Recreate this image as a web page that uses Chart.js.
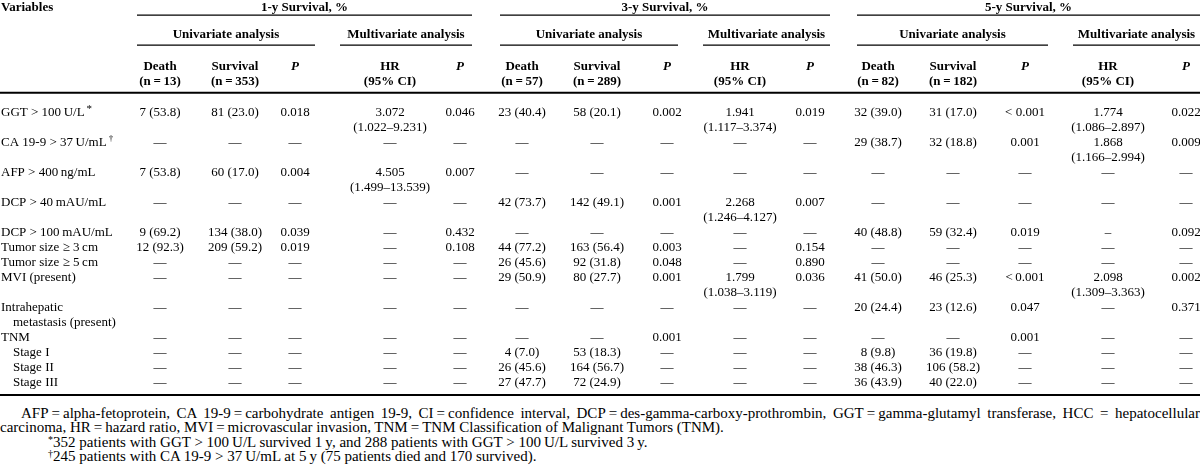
<!DOCTYPE html>
<html>
<head>
<meta charset="utf-8">
<script src="https://cdn.jsdelivr.net/npm/chart.js@4.4.1/dist/chart.umd.min.js"></script>
<style>
  html, body { margin: 0; padding: 0; background: #fff; }
  #wrap { position: relative; width: 1200px; height: 400px; }
  #notes { position: absolute; left: 0; top: 406px; width: 1200px; font: 15px "Liberation Serif", serif; line-height: 14.4px; color: #000; }
  #notes div { white-space: nowrap; }
  #notes .j { text-align: justify; text-align-last: justify; text-indent: 21px; }
  #notes .f { padding-left: 48px; }
  #notes sup { font-size: 10px; line-height: 0; vertical-align: 4px; }
</style>
</head>
<body>
<div id="wrap"><canvas id="tbl"></canvas></div>
<div id="notes">
  <div class="j">AFP&#8201;=&#8201;alpha-fetoprotein, CA 19-9&#8201;=&#8201;carbohydrate antigen 19-9, CI&#8201;=&#8201;confidence interval, DCP&#8201;=&#8201;des-gamma-carboxy-prothrombin, GGT&#8201;=&#8201;gamma-glutamyl transferase, HCC = hepatocellular</div>
  <div>carcinoma, HR&#8201;=&#8201;hazard ratio, MVI&#8201;=&#8201;microvascular invasion, TNM&#8201;=&#8201;TNM Classification of Malignant Tumors (TNM).</div>
  <div class="f"><sup>*</sup>352 patients with GGT &gt; 100&#8201;U/L survived 1&#8201;y, and 288 patients with GGT &gt; 100&#8201;U/L survived 3&#8201;y.</div>
  <div class="f"><sup>&#8224;</sup>245 patients with CA 19-9 &gt; 37&#8201;U/mL at 5&#8201;y (75 patients died and 170 survived).</div>
</div>
<script>
// table content
const variables = ['GGT > 100\u2009U/L', 'CA 19-9 > 37\u2009U/mL', 'AFP > 400\u2009ng/mL', 'DCP > 40\u2009mAU/mL',
  'DCP > 100\u2009mAU/mL', 'Tumor size \u2265 3\u2009cm', 'Tumor size \u2265 5\u2009cm', 'MVI (present)',
  'Intrahepatic\nmetastasis (present)', 'TNM', 'Stage I', 'Stage II', 'Stage III'];
const varNotes = ['*', '\u2020', '', '', '', '', '', '', '', '', '', '', ''];
const subRows = ['Stage I', 'Stage II', 'Stage III'];

const groups = ['1-y Survival, %', '3-y Survival, %', '5-y Survival, %'];
const analyses = ['Univariate analysis', 'Multivariate analysis'];
const colNames = ['Death', 'Survival', 'P', 'HR', 'P'];
const colCounts = [
  ['(n\u2009=\u200913)', '(n\u2009=\u2009353)', '', '(95% CI)', ''],
  ['(n\u2009=\u200957)', '(n\u2009=\u2009289)', '', '(95% CI)', ''],
  ['(n\u2009=\u200982)', '(n\u2009=\u2009182)', '', '(95% CI)', '']
];

const D = '\u2014';
// 1-year
const death1y  = ['7 (53.8)', D, '7 (53.8)', D, '9 (69.2)', '12 (92.3)', D, D, D, D, D, D, D];
const surv1y   = ['81 (23.0)', D, '60 (17.0)', D, '134 (38.0)', '209 (59.2)', D, D, D, D, D, D, D];
const pUni1y   = ['0.018', D, '0.004', D, '0.039', '0.019', D, D, D, D, D, D, D];
const hr1y     = ['3.072', D, '4.505', D, D, D, D, D, D, D, D, D, D];
const ci1y     = ['1.022\u20139.231', '', '1.499\u201313.539', '', '', '', '', '', '', '', '', '', ''];
const pMulti1y = ['0.046', D, '0.007', D, '0.432', '0.108', D, D, D, D, D, D, D];
// 3-year
const death3y  = ['23 (40.4)', D, D, '42 (73.7)', D, '44 (77.2)', '26 (45.6)', '29 (50.9)', D, D, '4 (7.0)', '26 (45.6)', '27 (47.7)'];
const surv3y   = ['58 (20.1)', D, D, '142 (49.1)', D, '163 (56.4)', '92 (31.8)', '80 (27.7)', D, D, '53 (18.3)', '164 (56.7)', '72 (24.9)'];
const pUni3y   = ['0.002', D, D, '0.001', D, '0.003', '0.048', '0.001', D, '0.001', D, D, D];
const hr3y     = ['1.941', D, D, '2.268', D, D, D, '1.799', D, D, D, D, D];
const ci3y     = ['1.117\u20133.374', '', '', '1.246\u20134.127', '', '', '', '1.038\u20133.119', '', '', '', '', ''];
const pMulti3y = ['0.019', D, D, '0.007', D, '0.154', '0.890', '0.036', D, D, D, D, D];
// 5-year
const death5y  = ['32 (39.0)', '29 (38.7)', D, D, '40 (48.8)', D, D, '41 (50.0)', '20 (24.4)', D, '8 (9.8)', '38 (46.3)', '36 (43.9)'];
const surv5y   = ['31 (17.0)', '32 (18.8)', D, D, '59 (32.4)', D, D, '46 (25.3)', '23 (12.6)', D, '36 (19.8)', '106 (58.2)', '40 (22.0)'];
const pUni5y   = ['< 0.001', '0.001', D, D, '0.019', D, D, '<\u20090.001', '0.047', '0.001', D, D, D];
const hr5y     = ['1.774', '1.868', D, D, '\u2013', D, D, '2.098', D, D, D, D, D];
const ci5y     = ['1.086\u20132.897', '1.166\u20132.994', '', '', '', '', '', '1.309\u20133.363', '', '', '', '', ''];
const pMulti5y = ['0.022', '0.009', D, D, '0.092', D, D, '0.002', '0.371', D, D, D, D];

const groupData = [
  [death1y, surv1y, pUni1y, hr1y, pMulti1y, ci1y],
  [death3y, surv3y, pUni3y, hr3y, pMulti3y, ci3y],
  [death5y, surv5y, pUni5y, hr5y, pMulti5y, ci5y]
];

// layout (x in px of the 1200 wide table, y in text lines)
const colX = [[160, 235, 295, 390, 460], [522, 597, 667, 740, 810], [878, 953, 1025, 1108, 1186]];
const groupSpan = [[137, 472], [500, 830], [857, 1200]];
const uniSpan = [[137, 315], [500, 678], [857, 1048]];
const multiSpan = [[340, 472], [703, 830], [1073, 1200]];
const LINE = 15, TOP = -7.533;

const FONT = '13px "Liberation Serif"';
const BOLD = 'bold 13px "Liberation Serif"';
const BOLDIT = 'italic bold 13px "Liberation Serif"';

// each body row takes one or two text lines
let slot = 0;
const rowSlots = variables.map((v, i) => {
  const s = slot;
  const two = v.includes('\n') || groupData.some(g => g[5][i]);
  slot += two ? 2 : 1;
  return s;
});

const labelCells = [];
variables.forEach((v, i) => {
  v.split('\n').forEach((part, k) => {
    const indent = (k > 0 || subRows.includes(v)) ? 12 : 0;
    labelCells.push({ x: 1 + indent, y: rowSlots[i] + k, t: part, sup: k === 0 ? varNotes[i] : '' });
  });
});

const bodyCells = [];
groupData.forEach((g, gi) => {
  rowSlots.forEach((s, i) => {
    for (let c = 0; c < 5; c++) bodyCells.push({ x: colX[gi][c], y: s, t: g[c][i] });
    if (g[5][i]) bodyCells.push({ x: colX[gi][3], y: s + 1, t: '(' + g[5][i] + ')' });
  });
});

const headCells = [{ x: 1, y: -7, t: 'Variables', a: 'left' }];
groups.forEach((name, gi) => {
  headCells.push({ x: (groupSpan[gi][0] + groupSpan[gi][1]) / 2, y: -7, t: name });
  headCells.push({ x: (uniSpan[gi][0] + uniSpan[gi][1]) / 2, y: -5.2, t: analyses[0] });
  headCells.push({ x: (multiSpan[gi][0] + multiSpan[gi][1]) / 2, y: -5.2, t: analyses[1] });
  colNames.forEach((n, c) => {
    headCells.push({ x: colX[gi][c], y: -3.1, t: n, f: n === 'P' ? BOLDIT : BOLD });
    if (colCounts[gi][c]) headCells.push({ x: colX[gi][c], y: -2.1, t: colCounts[gi][c] });
  });
});

function rule(x0, x1, y, w) {
  return { type: 'scatter', showLine: true, data: [{ x: x0, y: y }, { x: x1, y: y }],
    borderColor: '#000', borderWidth: w, pointRadius: 0, pointHoverRadius: 0 };
}
const rules = [];
groups.forEach((n, gi) => {
  rules.push(rule(groupSpan[gi][0], groupSpan[gi][1], -6.53, 1.2));
  rules.push(rule(uniSpan[gi][0], uniSpan[gi][1], -4.53, 1.2));
  rules.push(rule(multiSpan[gi][0], multiSpan[gi][1], -4.53, 1.2));
});
rules.push(rule(0, 1200, -1.35, 2));
rules.push(rule(0, 1200, 18.8, 2.2));

function textSet(data, font, align) {
  return { type: 'scatter', data: data, texts: true, font: font, align: align, pointRadius: 0, pointHoverRadius: 0 };
}

const tableText = {
  id: 'tableText',
  afterDatasetsDraw(chart) {
    const ctx = chart.ctx;
    chart.data.datasets.forEach((ds, i) => {
      if (!ds.texts) return;
      chart.getDatasetMeta(i).data.forEach((pt, j) => {
        const d = ds.data[j];
        ctx.save();
        ctx.fillStyle = '#000';
        ctx.font = d.f || ds.font;
        ctx.textAlign = d.a || ds.align;
        ctx.textBaseline = 'middle';
        ctx.fillText(d.t, pt.x, pt.y);
        if (d.sup) {
          const w = ctx.measureText(d.t).width;
          ctx.textAlign = 'left';
          ctx.font = d.sup === '*' ? '11px "Liberation Serif"' : '9px "Liberation Serif"';
          ctx.fillText(d.sup, pt.x + w + 2, pt.y - 4);
        }
        ctx.restore();
      });
    });
  }
};

new Chart(document.getElementById('tbl'), {
  type: 'scatter',
  data: {
    datasets: rules.concat([
      textSet(labelCells, FONT, 'left'),
      textSet(bodyCells, FONT, 'center'),
      textSet(headCells, BOLD, 'center')
    ])
  },
  options: {
    responsive: true,
    maintainAspectRatio: false,
    animation: false,
    events: [],
    layout: { padding: 0 },
    scales: {
      x: { type: 'linear', min: 0, max: 1200, display: false },
      y: { type: 'linear', reverse: true, min: TOP, max: TOP + 400 / LINE, display: false }
    },
    plugins: { legend: { display: false }, tooltip: { enabled: false } }
  },
  plugins: [tableText]
});
</script>
</body>
</html>
